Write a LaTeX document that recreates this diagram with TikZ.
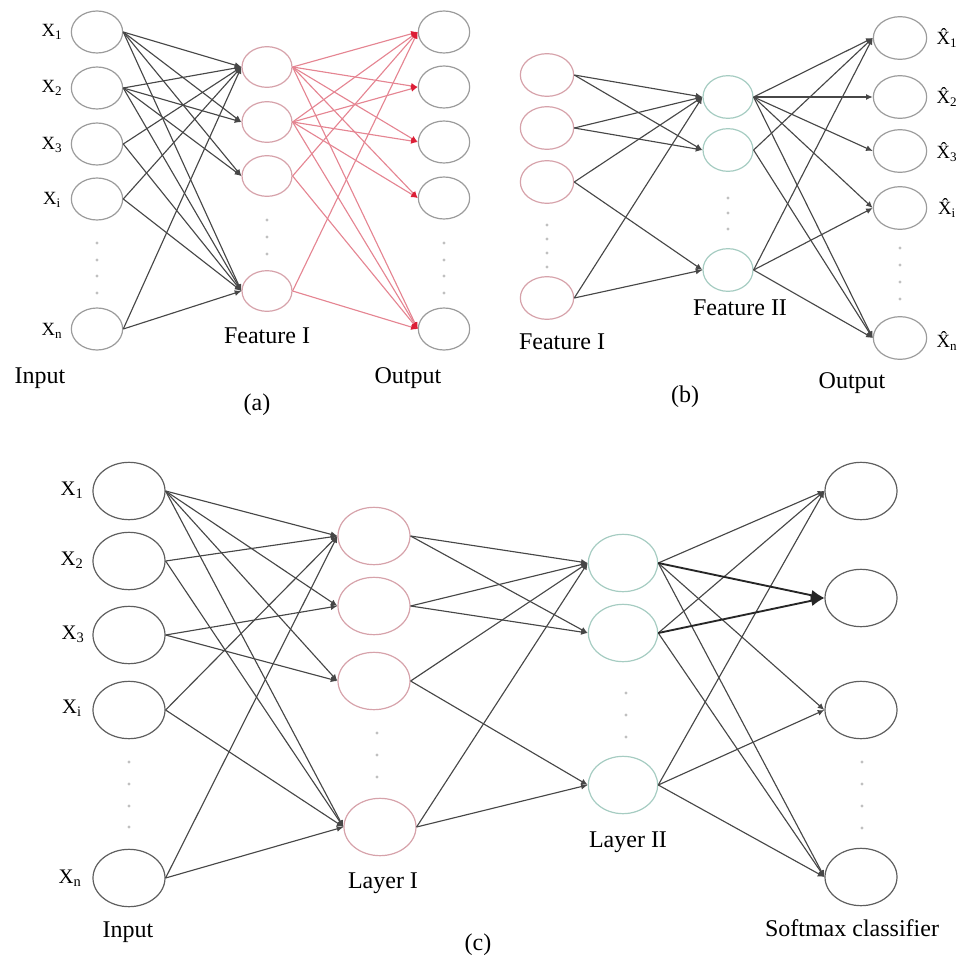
\documentclass[tikz,border=0pt]{standalone}
\usepackage{fontspec}
\setmainfont{Liberation Serif}
\usetikzlibrary{shapes.geometric,arrows.meta}
\definecolor{circgray}{HTML}{9C9C9C}
\definecolor{circdark}{HTML}{5E5E5E}
\definecolor{circpink}{HTML}{D6A2AA}
\definecolor{circteal}{HTML}{A6CCC2}
\definecolor{edgec}{HTML}{474747}
\definecolor{rededge}{HTML}{E58592}
\definecolor{redtip}{HTML}{DC1E36}
\definecolor{dotc}{HTML}{C0C0C0}
\newcommand{\xhat}{X\char"0302}
\begin{document}
\begin{tikzpicture}[x=0.75pt,y=-0.75pt,
  neuron/.style={ellipse, draw, line width=0.9pt, inner sep=0pt},
  na/.style={neuron, minimum width=38.5pt, minimum height=31.5pt, draw=circgray},
  nafeat/.style={neuron, minimum width=37.5pt, minimum height=30.5pt, draw=circpink},
  nb/.style={neuron, minimum width=40pt, minimum height=32pt, draw=circgray},
  nbpink/.style={neuron, minimum width=40pt, minimum height=32pt, draw=circpink},
  nbteal/.style={neuron, minimum width=37.5pt, minimum height=32pt, draw=circteal},
  nc/.style={neuron, minimum width=54pt, minimum height=43pt, draw=circdark},
  ncpink/.style={neuron, minimum width=54pt, minimum height=43pt, draw=circpink},
  ncteal/.style={neuron, minimum width=52pt, minimum height=43pt, draw=circteal},
  edge/.style={draw=edgec, line width=0.85pt, -{Latex[length=5pt,width=4.5pt]}},
  redge/.style={draw=rededge, line width=0.85pt, -{Latex[length=5pt,width=4.5pt,color=redtip]}},
  bigedge/.style={draw=black!85, line width=1.4pt, -{Latex[length=10pt,width=8pt]}},
  captxt/.style={font=\fontsize{18}{20}\selectfont, inner sep=0pt},
  xlab/.style={font=\fontsize{14}{16}\selectfont, inner sep=0pt},
  xlabc/.style={font=\fontsize{15.5}{17}\selectfont, inner sep=0pt},
  vdot/.style={fill=dotc, draw=none}
]
\useasboundingbox (0,0) rectangle (961,956);

% ================= (a) =================
\foreach \i/\yy in {1/32,2/88,3/144,4/199,5/329} \node[na] (aI\i) at (97,\yy) {};
\foreach \i/\yy in {1/67,2/122,3/176,4/291} \node[nafeat] (aF\i) at (267,\yy) {};
\foreach \i/\yy in {1/32,2/87,3/142,4/198,5/329} \node[na] (aO\i) at (444,\yy) {};

\node[xlab] (aX1) at (52,32) {X\textsubscript{1}};
\node[xlab] (aX2) at (52,88) {X\textsubscript{2}};
\node[xlab] (aX3) at (52,145) {X\textsubscript{3}};
\node[xlab] (aXi) at (52,200) {X\textsubscript{i}};
\node[xlab] (aXn) at (52,331) {X\textsubscript{n}};

\foreach \yy in {243,260,276,293} \fill[vdot] (97,\yy) circle (1.3pt);
\foreach \yy in {220,237,254} \fill[vdot] (267,\yy) circle (1.3pt);
\foreach \yy in {243,260,276,293} \fill[vdot] (444,\yy) circle (1.3pt);

\foreach \t in {1,2,3,4} {\draw[edge] (aI1.east) -- (aF\t.west); \draw[edge] (aI2.east) -- (aF\t.west);}
\foreach \s in {3,4,5} {\draw[edge] (aI\s.east) -- (aF1.west); \draw[edge] (aI\s.east) -- (aF4.west);}
\foreach \t in {1,2,3,4,5} {\draw[redge] (aF1.east) -- (aO\t.west); \draw[redge] (aF2.east) -- (aO\t.west);}
\foreach \s in {3,4} {\draw[redge] (aF\s.east) -- (aO1.west); \draw[redge] (aF\s.east) -- (aO5.west);}

\node[captxt] (aInput) at (40,378) {Input};
\node[captxt] (aFeat) at (267,336) {Feature I};
\node[captxt] (aOutput) at (408,378) {Output};
\node[captxt] (aTag) at (257,405) {(a)};

% ================= (b) =================
\foreach \i/\yy in {1/75,2/128,3/182,4/298} \node[nbpink] (bF\i) at (547,\yy) {};
\foreach \i/\yy in {1/97,2/150,3/270} \node[nbteal] (bG\i) at (728,\yy) {};
\foreach \i/\yy in {1/38,2/97,3/151,4/208,5/338} \node[nb] (bO\i) at (900,\yy) {};

\node[xlab] (bX1) at (947,38) {\xhat\textsubscript{1}};
\node[xlab] (bX2) at (947,97) {\xhat\textsubscript{2}};
\node[xlab] (bX3) at (947,152) {\xhat\textsubscript{3}};
\node[xlab] (bXi) at (947,208) {\xhat\textsubscript{i}};
\node[xlab] (bXn) at (947,341) {\xhat\textsubscript{n}};

\foreach \yy in {225,239,253,267} \fill[vdot] (547,\yy) circle (1.3pt);
\foreach \yy in {198,213,229} \fill[vdot] (728,\yy) circle (1.3pt);
\foreach \yy in {248,265,282,299} \fill[vdot] (900,\yy) circle (1.3pt);

\foreach \s in {1,2} {\draw[edge] (bF\s.east) -- (bG1.west); \draw[edge] (bF\s.east) -- (bG2.west);}
\foreach \s in {3,4} {\draw[edge] (bF\s.east) -- (bG1.west); \draw[edge] (bF\s.east) -- (bG3.west);}
\foreach \t in {1,2,3,4,5} \draw[edge] (bG1.east) -- (bO\t.west);
\foreach \t in {1,5} \draw[edge] (bG2.east) -- (bO\t.west);
\foreach \t in {1,4,5} \draw[edge] (bG3.east) -- (bO\t.west);

\node[captxt] (bFeatI) at (562,342) {Feature I};
\node[captxt] (bFeatII) at (740,308) {Feature II};
\node[captxt] (bOutput) at (852,383) {Output};
\node[captxt] (bTag) at (685,397) {(b)};

% ================= (c) =================
\foreach \i/\yy in {1/491,2/561,3/635,4/710,5/878} \node[nc] (cI\i) at (129,\yy) {};
\foreach \i/\xx/\yy in {1/374/536,2/374/606,3/374/681,4/380/827} \node[ncpink] (cL\i) at (\xx,\yy) {};
\foreach \i/\yy in {1/563,2/633,3/785} \node[ncteal] (cM\i) at (623,\yy) {};
\foreach \i/\yy in {1/491,2/598,3/710,4/877} \node[nc] (cS\i) at (861,\yy) {};

\node[xlabc] (cX1) at (72,490) {X\textsubscript{1}};
\node[xlabc] (cX2) at (72,560) {X\textsubscript{2}};
\node[xlabc] (cX3) at (73,634) {X\textsubscript{3}};
\node[xlabc] (cXi) at (72,708) {X\textsubscript{i}};
\node[xlabc] (cXn) at (70,878) {X\textsubscript{n}};

\foreach \yy in {762,784,806,827} \fill[vdot] (129,\yy) circle (1.3pt);
\foreach \yy in {733,755,777} \fill[vdot] (377,\yy) circle (1.3pt);
\foreach \yy in {693,715,737} \fill[vdot] (626,\yy) circle (1.3pt);
\foreach \yy in {762,784,806,828} \fill[vdot] (862,\yy) circle (1.3pt);

\foreach \t in {1,2,3,4} \draw[edge] (cI1.east) -- (cL\t.west);
\foreach \s in {2,4,5} {\draw[edge] (cI\s.east) -- (cL1.west); \draw[edge] (cI\s.east) -- (cL4.west);}
\draw[edge] (cI3.east) -- (cL2.west);
\draw[edge] (cI3.east) -- (cL3.west);
\foreach \s in {1,2} {\draw[edge] (cL\s.east) -- (cM1.west); \draw[edge] (cL\s.east) -- (cM2.west);}
\foreach \s in {3,4} {\draw[edge] (cL\s.east) -- (cM1.west); \draw[edge] (cL\s.east) -- (cM3.west);}
\foreach \t in {1,3,4} \draw[edge] (cM1.east) -- (cS\t.west);
\foreach \t in {1,4} \draw[edge] (cM2.east) -- (cS\t.west);
\foreach \t in {1,3,4} \draw[edge] (cM3.east) -- (cS\t.west);
\draw[bigedge] (cM1.east) -- (cS2.west);
\draw[bigedge] (cM2.east) -- (cS2.west);

\node[captxt] (cInput) at (128,932) {Input};
\node[captxt] (cLayerI) at (383,883) {Layer I};
\node[captxt] (cLayerII) at (628,842) {Layer II};
\node[captxt] (cSoft) at (852,928) {Softmax classifier};
\node[captxt] (cTag) at (478,945) {(c)};
\end{tikzpicture}
\end{document}
